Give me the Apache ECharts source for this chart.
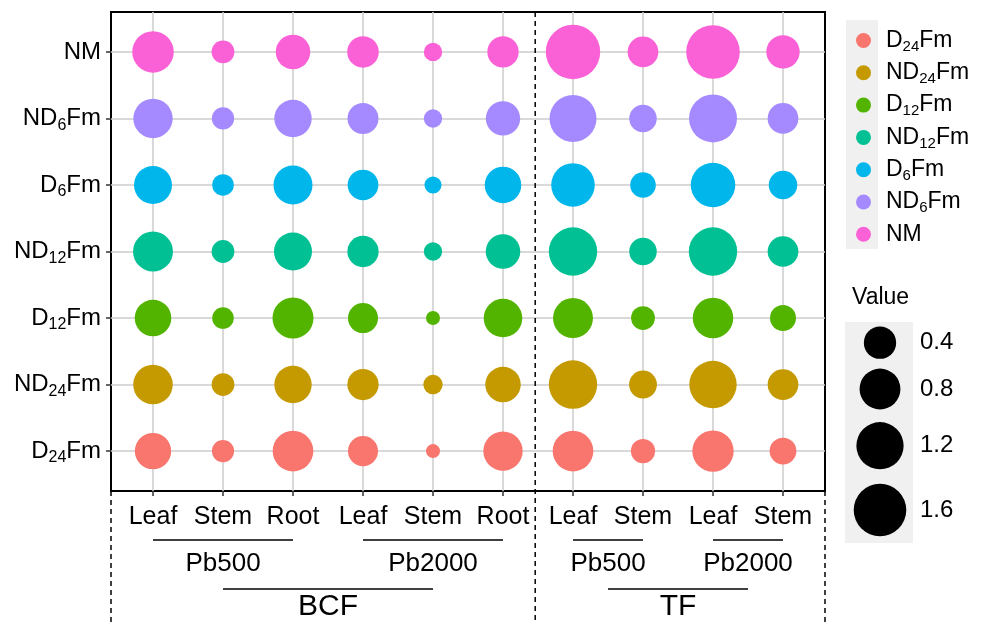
<!DOCTYPE html>
<html><head><meta charset="utf-8">
<script src="https://cdn.jsdelivr.net/npm/echarts@6/dist/echarts.min.js"></script>
<style>html,body{margin:0;padding:0;background:#fff}#c{width:988px;height:624px}</style>
</head><body><div id="c"></div>
<script>
// ---------- data ----------
const tissues = ['Leaf','Stem','Root','Leaf','Stem','Root','Leaf','Stem','Leaf','Stem'];
const doseLabels = ['Pb500','Pb2000','Pb500','Pb2000'];
const doseSpans = [[1,3],[4,6],[7,8],[9,10]];
const factorLabels = ['BCF','TF'];
const factorDoses = [[0,1],[2,3]];
const groups = ['D24Fm','ND24Fm','D12Fm','ND12Fm','D6Fm','ND6Fm','NM'];
const colors = ['#F8766D','#C49A00','#53B400','#00C094','#00B6EB','#A58AFF','#FB61D7'];
const D24Fm  = [0.57,0.12,0.79,0.32,0.05,0.72,0.79,0.16,0.83,0.22];
const ND24Fm = [0.73,0.13,0.62,0.36,0.08,0.53,1.28,0.25,1.21,0.34];
const D12Fm  = [0.58,0.11,0.81,0.32,0.05,0.68,0.75,0.15,0.78,0.20];
const ND12Fm = [0.75,0.13,0.65,0.36,0.07,0.49,1.28,0.24,1.28,0.34];
const D6Fm   = [0.65,0.11,0.70,0.34,0.06,0.58,0.96,0.19,1.02,0.27];
const ND6Fm  = [0.72,0.12,0.62,0.35,0.07,0.48,1.18,0.24,1.25,0.34];
const NM     = [0.84,0.13,0.49,0.37,0.07,0.36,1.75,0.34,1.68,0.44];
const seriesValues = [D24Fm, ND24Fm, D12Fm, ND12Fm, D6Fm, ND6Fm, NM];
const sizeBreaks = [0.4, 0.8, 1.2, 1.6];
const sizeLabels = ['0.4','0.8','1.2','1.6'];

(function(){
// ---------- helpers ----------
const FONT = 'Liberation Sans, Arial, sans-serif';
function radius(v){ return 7 + 15.5*Math.sqrt(Math.max(v-0.05,0)); }
function richName(n){ return '{a|' + n.replace(/(\d+)/, '}{s|$1}{a|') + '}'; }
const xVals = tissues.map((_,i)=>i+1);
const yVals = groups.map((_,i)=>i+1);

const chart = echarts.init(document.getElementById('c'), null, {renderer:'canvas'});
const option = {
  animation: false,
  backgroundColor: '#fff',
  textStyle: {fontFamily: FONT},
  grid: {left: 111, right: 163, top: 12, bottom: 133, show: true, borderColor: '#000', borderWidth: 2, backgroundColor: 'transparent'},
  xAxis: {
    type: 'value', min: 0.4, max: 10.6,
    axisLine: {show: false},
    axisTick: {show: true, customValues: xVals, length: 5, lineStyle: {color: '#333', width: 1.5}},
    axisLabel: {customValues: xVals, formatter: v => tissues[Math.round(v)-1], fontSize: 25, color: '#000', margin: 14, fontFamily: FONT},
    splitLine: {show: true, lineStyle: {color: '#cccccc', width: 1.5}}
  },
  yAxis: {
    type: 'value', min: 0.4, max: 7.6,
    axisLine: {show: false},
    axisTick: {show: true, customValues: yVals, length: 5, lineStyle: {color: '#333', width: 1.5}},
    axisLabel: {customValues: yVals, formatter: v => richName(groups[Math.round(v)-1]), color: '#000', margin: 10,
      rich: {a: {fontSize: 24, fontFamily: FONT, color: '#000'}, s: {fontSize: 16, fontFamily: FONT, color: '#000', padding: [14,0,0,0]}}},
    splitLine: {show: true, lineStyle: {color: '#cccccc', width: 1.5}}
  },
  legend: {
    orient: 'vertical', left: 851, top: 24, itemGap: 7.3, icon: 'circle', itemWidth: 15, itemHeight: 15,
    data: groups, formatter: n => richName(n),
    textStyle: {rich: {a: {fontSize: 23, fontFamily: FONT, color: '#000'}, s: {fontSize: 15, fontFamily: FONT, color: '#000', padding: [12,0,0,0]}}, padding: [0,0,0,10]}
  },
  series: groups.map((g, i) => ({
    name: g, type: 'scatter',
    data: seriesValues[i].map((v, j) => [j+1, i+1, v]),
    symbolSize: d => 2*radius(d[2]),
    itemStyle: {color: colors[i], opacity: 1},
    emphasis: {disabled: true}
  }))
};
chart.setOption(option);

// ---------- annotations built from the axis scales ----------
const px = x => chart.convertToPixel({gridIndex: 0}, [x, 1])[0];
const py = y => chart.convertToPixel({gridIndex: 0}, [1, y])[1];
const pTop = py(7.6), pBot = py(0.4), pLeft = px(0.4), pRight = px(10.6);
const H = 624;
const g = [];
const dash = {stroke: '#000', lineWidth: 1.5, lineDash: [5, 4]};
g.push({type: 'line', shape: {x1: pLeft, y1: pBot, x2: pLeft, y2: H}, style: dash});
g.push({type: 'line', shape: {x1: pRight, y1: pBot, x2: pRight, y2: H}, style: dash});
const mid = px(6.46);
g.push({type: 'line', shape: {x1: mid, y1: pTop, x2: mid, y2: H}, style: dash});
const line1Y = 540, doseY = 564, line2Y = 589, facY = 607;
const doseCenters = doseSpans.map(s => (px(s[0]) + px(s[1]))/2);
doseSpans.forEach((s, i) => {
  g.push({type: 'line', shape: {x1: px(s[0]), y1: line1Y, x2: px(s[1]), y2: line1Y}, style: {stroke: '#000', lineWidth: 1.6}});
  g.push({type: 'text', x: doseCenters[i], y: doseY, style: {text: doseLabels[i], font: '26px ' + FONT, fill: '#000', align: 'center', verticalAlign: 'middle'}});
});
factorDoses.forEach((d, i) => {
  const x1 = doseCenters[d[0]], x2 = doseCenters[d[1]];
  g.push({type: 'line', shape: {x1: x1, y1: line2Y, x2: x2, y2: line2Y}, style: {stroke: '#000', lineWidth: 1.6}});
  g.push({type: 'text', x: (x1+x2)/2, y: facY, style: {text: factorLabels[i], font: '30px ' + FONT, fill: '#000', align: 'center', verticalAlign: 'middle'}});
});
// legend key background (colour legend)
g.push({type: 'rect', shape: {x: 846, y: 20, width: 32, height: 229}, style: {fill: '#f0f0f0'}, z: -1});
// size legend
g.push({type: 'text', x: 852, y: 298, style: {text: 'Value', font: '23px ' + FONT, fill: '#000', verticalAlign: 'middle'}});
g.push({type: 'rect', shape: {x: 845, y: 322, width: 68, height: 221}, style: {fill: '#f0f0f0'}, z: -1});
const sizeY = [342.7, 389, 445.7, 510];
sizeBreaks.forEach((v, i) => {
  g.push({type: 'circle', shape: {cx: 880, cy: sizeY[i], r: radius(v)}, style: {fill: '#000'}});
  g.push({type: 'text', x: 920, y: sizeY[i], style: {text: sizeLabels[i], font: '24px ' + FONT, fill: '#000', verticalAlign: 'middle'}});
});
chart.setOption({graphic: {elements: g}});
})();
</script>
</body></html>
